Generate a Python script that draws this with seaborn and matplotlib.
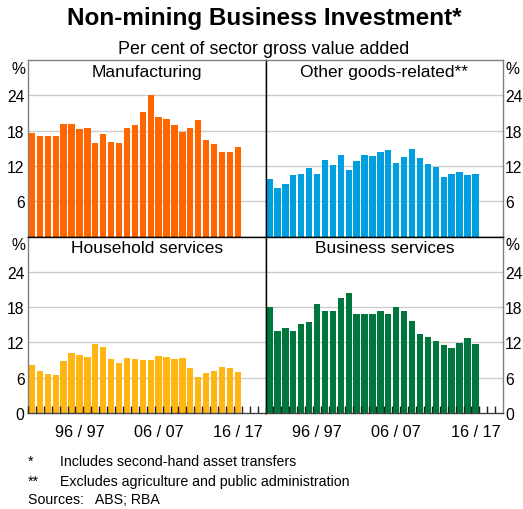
import numpy as np
import matplotlib.pyplot as plt
import seaborn as sns

# financial years 1990/91 .. 2016/17
years = [f"{y % 100:02d}/{(y + 1) % 100:02d}" for y in range(1990, 2017)]

manufacturing = [17.6, 17.1, 17.1, 17.1, 19.1, 19.1, 18.3, 18.4, 15.9, 17.4,
                 16.0, 15.9, 18.4, 19.0, 21.2, 24.0, 20.3, 20.0, 19.0, 17.8,
                 18.4, 19.8, 16.4, 15.7, 14.3, 14.3, 15.2]
other_goods = [9.7, 8.3, 8.85, 10.4, 10.6, 11.6, 10.7, 13.0, 12.1, 13.85,
               11.3, 12.8, 13.85, 13.7, 14.4, 14.7, 12.5, 13.5, 14.9, 13.3,
               12.3, 11.8, 10.1, 10.6, 10.9, 10.4, 10.6]
household = [8.2, 7.1, 6.7, 6.4, 8.8, 10.2, 9.9, 9.5, 11.7, 11.3,
             9.1, 8.5, 9.3, 9.1, 9.0, 9.0, 9.7, 9.5, 9.1, 9.3,
             7.6, 6.1, 6.8, 7.1, 7.8, 7.6, 6.9]
business = [18.0, 14.0, 14.4, 14.0, 15.1, 15.4, 18.6, 17.3, 17.3, 19.5,
            20.45, 16.8, 16.9, 16.9, 17.4, 16.9, 18.0, 17.4, 15.6, 13.4,
            13.0, 12.2, 11.5, 11.1, 11.9, 12.7, 11.8]

panel_titles = ['Manufacturing', 'Other goods-related**',
                'Household services', 'Business services']
panel_colors = ['#ff6600', '#00a0e0', '#ffb612', '#00773c']
tick_years = ['96/97', '06/07', '16/17']
tick_labels = ['96 / 97', '06 / 07', '16 / 17']

sns.set_style('white')
plt.rcParams['font.family'] = ['Liberation Sans', 'DejaVu Sans']
plt.rcParams.update({'text.color': 'black', 'xtick.color': 'black',
                     'ytick.color': 'black'})

fig = plt.figure(figsize=(5.23, 5.10), dpi=100)
axes = fig.subplots(2, 2)
fig.subplots_adjust(left=0.0535, right=0.962, top=0.8804, bottom=0.1882,
                    wspace=0, hspace=0)

series = [manufacturing, other_goods, household, business]
frame = '#808080'
tick_fs = 11.3

for i, ax in enumerate(axes.flat):
    row, col = divmod(i, 2)
    sns.barplot(x=years, y=series[i], color=panel_colors[i], saturation=1,
                width=0.8, linewidth=0, ax=ax)
    ax.set_xlim(-0.5, 29.5)
    ax.set_ylim(0, 30)
    ax.set_axisbelow(False)
    for g in [6, 12, 18, 24]:
        ax.axhline(g, color='#cccccc', lw=1, zorder=0)

    # frame: outer edges grey, inner separators black
    for s in ax.spines.values():
        s.set_linewidth(1)
        s.set_visible(True)
    ax.spines['top'].set_color(frame if row == 0 else 'black')
    ax.spines['bottom'].set_color('black' if row == 0 else '#444444')
    ax.spines['left'].set_color(frame if col == 0 else 'black')
    ax.spines['right'].set_color('black' if col == 0 else frame)

    yt = [6, 12, 18, 24] if row == 0 else [0, 6, 12, 18, 24]
    ax.set_yticks(yt)
    ax.set_yticklabels([str(v) for v in yt])
    if col == 0:
        ax.yaxis.tick_left()
        ax.text(-0.012, 0.952, '%', transform=ax.transAxes, ha='right',
                va='center', fontsize=tick_fs)
    else:
        ax.yaxis.tick_right()
        ax.text(1.008, 0.952, '%', transform=ax.transAxes, ha='left',
                va='center', fontsize=tick_fs)
    ax.tick_params(axis='y', length=0, pad=1.5 if col == 1 else 2.5,
                   labelsize=tick_fs)

    if row == 1:
        ax.set_xticks([years.index(t) for t in tick_years])
        ax.set_xticklabels(tick_labels)
        ax.set_xticks(np.arange(-0.5, 29, 1), minor=True)
        ax.tick_params(axis='x', which='major', length=0, pad=8,
                       labelsize=11.7)
        ax.tick_params(axis='x', which='minor', direction='in', length=5,
                       width=1, color='#222222', bottom=True)
    else:
        ax.set_xticks([])
    ax.set_xlabel('')
    ax.set_ylabel('')

    ax.text(0.5, 0.935, panel_titles[i], transform=ax.transAxes,
            ha='center', va='center', fontsize=12.5)

fig.text(0.505, 1 - 18 / 510, 'Non-mining Business Investment*',
         ha='center', va='center', fontsize=17.5, fontweight='bold')
fig.text(0.505, 1 - 49 / 510, 'Per cent of sector gross value added',
         ha='center', va='center', fontsize=12.9)

fig.text(28 / 523, 1 - 462 / 510, '*', ha='left', va='center', fontsize=10.2)
fig.text(60 / 523, 1 - 462 / 510, 'Includes second-hand asset transfers',
         ha='left', va='center', fontsize=10.2)
fig.text(28 / 523, 1 - 482 / 510, '**', ha='left', va='center', fontsize=10.2)
fig.text(60 / 523, 1 - 482 / 510, 'Excludes agriculture and public administration',
         ha='left', va='center', fontsize=10.2)
fig.text(28 / 523, 1 - 500 / 510, 'Sources:   ABS; RBA', ha='left',
         va='center', fontsize=10.2)

fig.savefig('out.png', dpi=100)
